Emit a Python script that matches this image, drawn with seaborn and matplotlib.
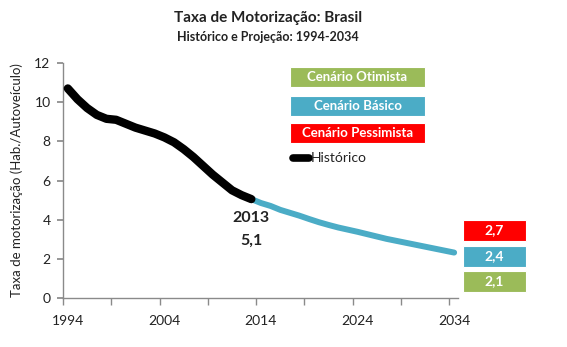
import matplotlib
matplotlib.use("Agg")
import matplotlib.pyplot as plt
import seaborn as sns
import pandas as pd
from matplotlib.patches import Rectangle
from matplotlib.ticker import FixedLocator

# ---- data ----
hist_years = list(range(1994, 2014))
hist_values = [10.7, 10.15, 9.7, 9.35, 9.15, 9.1, 8.9, 8.7, 8.55, 8.4,
               8.2, 7.95, 7.6, 7.2, 6.75, 6.3, 5.9, 5.5, 5.25, 5.05]
proj_years = list(range(2013, 2035))
proj_values = [5.05, 4.85, 4.7, 4.5, 4.35, 4.2, 4.03, 3.87, 3.73, 3.6, 3.49,
               3.38, 3.26, 3.14, 3.02, 2.92, 2.82, 2.72, 2.62, 2.52, 2.42, 2.32]
scenario_names = ["Cenário Otimista", "Cenário Básico", "Cenário Pessimista"]
scenario_colors = ["#9BBB59", "#4BACC6", "#FF0000"]
end_labels = ["2,7", "2,4", "2,1"]
end_colors = ["#FF0000", "#4BACC6", "#9BBB59"]
x_labels = [1994, 2004, 2014, 2024, 2034]
y_ticks = [0, 2, 4, 6, 8, 10, 12]

FONT = ["Lato", "DejaVu Sans"]
sns.set_theme(style="white")
plt.rcParams["font.family"] = FONT

W, H = 567, 347
fig = plt.figure(figsize=(W / 100, H / 100), dpi=100)
ax = fig.add_axes([63 / W, 1 - 298 / H, (458 - 63) / W, (298 - 63) / H])

hist = pd.DataFrame({"ano": hist_years, "taxa": hist_values})
proj = pd.DataFrame({"ano": proj_years, "taxa": proj_values})
sns.lineplot(data=proj, x="ano", y="taxa", ax=ax, color="#4BACC6", lw=4.3,
             solid_capstyle="round", zorder=2)
sns.lineplot(data=hist, x="ano", y="taxa", ax=ax, color="black", lw=6.0,
             solid_capstyle="round", zorder=3)

# category-style axis: ticks between categories, labels on categories
ax.set_xlim(1993.5, 2034.4)
ax.set_ylim(0, 12)
ax.set_xticks(x_labels)
ax.xaxis.set_minor_locator(FixedLocator([1993.5 + 5 * k for k in range(9)]))
ax.set_yticks(y_ticks)
ax.set_xlabel("")
ax.set_ylabel("Taxa de motorização (Hab./Autoveículo)", fontsize=9.5, color="#222222", labelpad=8)
for s in ["top", "right"]:
    ax.spines[s].set_visible(False)
for s in ["left", "bottom"]:
    ax.spines[s].set_color("#8a8a8a")
    ax.spines[s].set_linewidth(1.0)
ax.tick_params(axis="x", which="major", length=0, bottom=True, labelsize=10,
               labelcolor="#222222", pad=12)
ax.tick_params(axis="x", which="minor", direction="out", length=5, color="#8a8a8a",
               bottom=True)
ax.tick_params(axis="y", direction="out", length=4, color="#8a8a8a", left=True,
               labelsize=10, labelcolor="#222222", pad=5)

# annotation for 2013
ax.text(hist_years[-1], (298 - 218) / 19.58, "2013", ha="center", va="center", fontsize=11.5,
        fontweight="bold", color="#222222")
ax.text(hist_years[-1], (298 - 241) / 19.58, "5,1", ha="center", va="center", fontsize=11.5,
        fontweight="bold", color="#222222")

# titles
fig.text(268 / W, 1 - 18 / H, "Taxa de Motorização: Brasil", ha="center", va="center",
         fontsize=11, fontweight="bold", color="#222222")
fig.text(268 / W, 1 - 37 / H, "Histórico e Projeção: 1994-2034", ha="center", va="center",
         fontsize=9, fontweight="bold", color="#222222")

# scenario legend boxes
box_tops = [67, 96, 123]
for name, col, top in zip(scenario_names, scenario_colors, box_tops):
    r = Rectangle((290 / W, 1 - (top + 20) / H), 135 / W, 20 / H, transform=fig.transFigure,
                  facecolor=col, edgecolor="white", lw=0.8)
    fig.add_artist(r)
    fig.text(357.5 / W, 1 - (top + 10) / H, name, ha="center", va="center",
             fontsize=9.5, fontweight="bold", color="white")
fig.add_artist(plt.Line2D([293 / W, 309 / W], [1 - 158 / H, 1 - 158 / H],
                          transform=fig.transFigure, color="black", lw=5.5,
                          solid_capstyle="round"))
fig.text(311 / W, 1 - 158 / H, "Histórico", ha="left", va="center", fontsize=10,
         color="#222222")

# end value boxes
end_tops = [220, 246, 271]
for lab, col, top in zip(end_labels, end_colors, end_tops):
    r = Rectangle((463 / W, 1 - (top + 21) / H), 63 / W, 21 / H, transform=fig.transFigure,
                  facecolor=col, edgecolor="white", lw=0.8)
    fig.add_artist(r)
    fig.text(494.5 / W, 1 - (top + 10.5) / H, lab, ha="center", va="center",
             fontsize=10, fontweight="bold", color="white")

fig.savefig("out.png", dpi=100, facecolor="white")
